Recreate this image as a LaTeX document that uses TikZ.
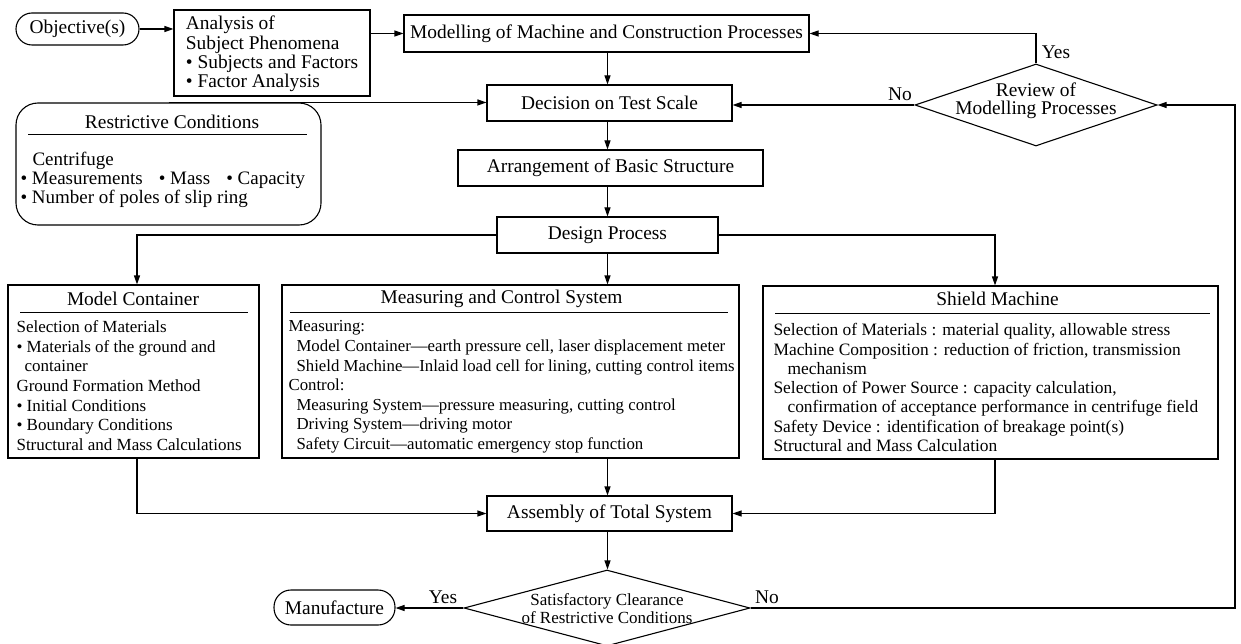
\documentclass[tikz,border=0pt]{standalone}
\usepackage{fontspec}
\setmainfont{Liberation Serif}
\usetikzlibrary{shapes.geometric,arrows.meta}
\newcommand{\mainsz}{\fontsize{19.4}{19.4}\selectfont}
\newcommand{\bodysz}{\fontsize{17}{19.7}\selectfont}
\begin{document}
\begin{tikzpicture}[x=1pt,y=-1pt,line width=1.1pt,
  arr/.style={-{Triangle[length=9pt,width=6pt]}},
  box/.style={draw,inner sep=0pt,font=\mainsz},
  rbox/.style={draw,rounded corners=16pt,inner sep=0pt,font=\mainsz},
  dia/.style={draw,diamond,inner sep=0pt},
  body/.style={inner sep=0pt,font=\bodysz,align=left,anchor=base west},
  lab/.style={inner sep=0pt,font=\mainsz},
  rulel/.style={line width=0.9pt}]
\useasboundingbox (0,0) rectangle (1241,644);

% top row
\node[rbox,minimum width=123pt,minimum height=32pt] (obj) at (77.5,29) {Objective(s)};
\node[box,minimum width=196pt,minimum height=86pt,align=left,font=\fontsize{19.4}{19.3}\selectfont] (ana) at (272,53)
  {\rule{0pt}{16pt}Analysis of\\Subject Phenomena\\• Subjects and Factors\\• Factor Analysis};
\node[box,minimum width=405pt,minimum height=37pt] (mod) at (606.5,33.5) {Modelling of Machine and Construction Processes};
\node[box,minimum width=245pt,minimum height=36pt] (dec) at (609.5,103) {Decision on Test Scale};
\node[box,minimum width=305pt,minimum height=36pt] (arrg) at (610.5,168) {Arrangement of Basic Structure};
\node[box,minimum width=221pt,minimum height=36pt] (des) at (607.5,235) {Design Process};

% review diamond
\node[dia,minimum width=242pt,minimum height=82pt] (rev) at (1036,105) {};
\node[lab,align=center,font=\fontsize{19.4}{18}\selectfont] (revt) at (1036,101) {Review of\\Modelling Processes};

% restrictive conditions
\node[draw,rounded corners=22pt,minimum width=305pt,minimum height=122pt,inner sep=0pt] (rc) at (168.5,164) {};
\node[lab] (rct) at (172,122) {Restrictive Conditions};
\draw[rulel] (28,134) -- (307,134);
\node[body,font=\fontsize{19}{19}\selectfont] (rcb) at (20,204)
  {\hspace*{12pt}Centrifuge\\• Measurements\hspace{16pt}• Mass\hspace{16pt}• Capacity\\• Number of poles of slip ring};

% model container
\node[box,minimum width=251pt,minimum height=173pt] (mc) at (133.5,371.5) {};
\node[lab] (mct) at (133,299) {Model Container};
\draw[rulel] (20,312) -- (248,312);
\node[body] (mcb) at (16,450.5)
  {Selection of Materials\\• Materials of the ground and\\\hspace*{8pt}container\\Ground Formation Method\\• Initial Conditions\\• Boundary Conditions\\Structural and Mass Calculations};

% measuring and control
\node[box,minimum width=457pt,minimum height=173pt] (msr) at (510.5,371.5) {};
\node[lab] (msrt) at (501.5,299) {Measuring and Control System};
\draw[rulel] (290,312) -- (728,312);
\node[body,font=\fontsize{16.8}{19.6}\selectfont] (msrb) at (288,449.5)
  {Measuring:\\
   \hspace*{8pt}Model Container—earth pressure cell, laser displacement meter\\
   \hspace*{8pt}Shield Machine—Inlaid load cell for lining, cutting control items\\
   Control:\\
   \hspace*{8pt}Measuring System—pressure measuring, cutting control\\
   \hspace*{8pt}Driving System—driving motor\\
   \hspace*{8pt}Safety Circuit—automatic emergency stop function};

% shield machine
\node[box,minimum width=455pt,minimum height=173pt] (sh) at (990.5,372.5) {};
\node[lab] (sht) at (997.5,299) {Shield Machine};
\draw[rulel] (775,313) -- (1210,313);
\node[body,font=\fontsize{17.4}{19.3}\selectfont] (shb) at (773,451.5)
  {Selection of Materials :\hspace{6pt}material quality, allowable stress\\
   Machine Composition :\hspace{6pt}reduction of friction, transmission\\
   \hspace*{14pt}mechanism\\
   Selection of Power Source : capacity calculation,\\
   \hspace*{14pt}confirmation of acceptance performance in centrifuge field\\
   Safety Device :\hspace{6pt}identification of breakage point(s)\\
   Structural and Mass Calculation};

% bottom
\node[box,minimum width=245pt,minimum height=35pt] (asm) at (609.5,513.5) {Assembly of Total System};
\node[dia,minimum width=286pt,minimum height=76pt] (sat) at (607,608) {};
\node[lab,align=center,font=\fontsize{17}{18}\selectfont] (satt) at (607,608.5) {Satisfactory Clearance\\of Restrictive Conditions};
\node[rbox,rounded corners=17pt,minimum width=121pt,minimum height=35pt] (man) at (334.5,607.5) {Manufacture};

% labels
\node[lab] (yes1) at (1056,52) {Yes};
\node[lab] (no1) at (900,94) {No};
\node[lab] (yes2) at (443,597) {Yes};
\node[lab] (no2) at (767,597) {No};

% helper coordinates
\coordinate (spine) at (607.5,0);
\coordinate (mcx) at (137,0);
\coordinate (shx) at (995,0);
\coordinate (loopx) at (1235,0);

% connectors
\draw[arr] (obj.east) -- (ana.west |- obj.east);
\draw[arr] (ana.east |- mod.west) -- (mod.west);
\draw[arr] (mod.south -| spine) -- (dec.north -| spine);
\draw[arr] (rc.north) -- (dec.west |- rc.north);
\draw[arr] (rev.west) -- (dec.east |- rev.west);
\draw[arr] (rev.north) |- (mod.east);
\draw[arr] (dec.south -| spine) -- (arrg.north -| spine);
\draw[arr] (arrg.south -| spine) -- (des.north -| spine);
\draw[arr] (des.west) -| (mcx |- mc.north);
\draw[arr] (des.east) -| (shx |- sh.north);
\draw[arr] (des.south -| spine) -- (msr.north -| spine);
\draw[arr] (mcx |- mc.south) |- (asm.west);
\draw[arr] (shx |- sh.south) |- (asm.east);
\draw[arr] (msr.south -| spine) -- (asm.north -| spine);
\draw[arr] (asm.south -| spine) -- (sat.north -| spine);
\draw[arr] (sat.west) -- (man.east |- sat.west);
\draw[arr] (sat.east) -- (sat.east -| loopx) -- (loopx |- rev.east) -- (rev.east);
\end{tikzpicture}
\end{document}
